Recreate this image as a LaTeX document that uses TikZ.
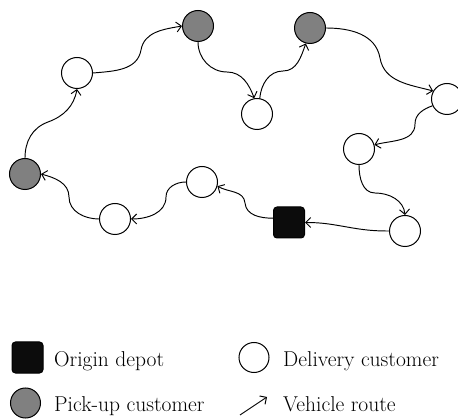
\documentclass[tikz,border=0pt]{standalone}
\usepackage{fontspec}
\usepackage{tikz}
\usetikzlibrary{arrows}
\usepgflibrary{arrows.meta}
\definecolor{pickgray}{RGB}{128,128,128}
\definecolor{depotblack}{RGB}{12,12,12}

\begin{document}
\begin{tikzpicture}[x=1pt,y=1pt,
        deliv/.style={circle,draw,fill=white,line width=1pt,minimum size=31pt,inner sep=0pt},
        pick/.style={deliv,fill=pickgray},
        depot/.style={rectangle,rounded corners=3.5pt,draw,fill=depotblack,line width=1pt,minimum size=31pt,inner sep=0pt},
        route/.style={line width=0.95pt,-{Straight Barb[length=5pt,width=10pt]}},
        legtext/.style={anchor=base west,inner sep=0pt,font=\fontsize{21.5}{25}\selectfont}]
        \useasboundingbox (0,0) rectangle (458,418);
        %customers and depot
            \node [depot] (dep) at (289,195.5) {};
            \node [pick] (p1) at (198,392) {};
            \node [pick] (p2) at (310,390) {};
            \node [pick] (p3) at (25,244) {};
            \node [deliv] (d1) at (77,345) {};
            \node [deliv] (d2) at (257,304) {};
            \node [deliv] (d3) at (447,319) {};
            \node [deliv] (d4) at (359,269) {};
            \node [deliv] (d5) at (405,187) {};
            \node [deliv] (d6) at (202,236) {};
            \node [deliv] (d7) at (115,199) {};
        %route
            \draw [route] (d5.west) to[out=180,in=-10] (347,191) to[out=170,in=0] (dep.east);
            \draw [route] (dep.165) to[out=180,in=-85] (245,215) to[out=95,in=-30] (d6.-15);
            \draw [route] (d6.west) to[out=180,in=90] (166,221) to[out=-90,in=0] (d7.east);
            \draw [route] (d7.west) to[out=180,in=-90] (69,221) to[out=90,in=-15] (p3.east);
            \draw [route] (p3.north) to[out=90,in=200] (48,296) to[out=20,in=-100] (d1.south);
            \draw [route] (d1.east) to[out=5,in=-100] (141,368) to[out=80,in=190] (p1.west);
            \draw [route] (p1.south) to[out=-90,in=180] (227,346) to[out=0,in=110] (d2.100);
            \draw [route] (d2.80) to[out=85,in=180] (283,347) to[out=0,in=-110] (p2.255);
            \draw [route] (p2.east) to[out=0,in=100] (380,360) to[out=-80,in=165] (d3.150);
            \draw [route] (d3.205) to[out=200,in=90] (415,294) to[out=-90,in=15] (d4.15);
            \draw [route] (d4.south) to[out=-90,in=180] (375,225) to[out=0,in=95] (d5.north);
        %legend
            \node [depot] (ldep) at (27.5,60.5) {};
            \node [legtext] (tdep) at (54,52) {Origin depot};
            \node [deliv,minimum size=30pt] (ldel) at (254,60.5) {};
            \node [legtext] (tdel) at (283,52) {Delivery customer};
            \node [pick,minimum size=30pt] (lpick) at (25.5,15) {};
            \node [legtext] (tpick) at (54,7) {Pick-up customer};
            \coordinate (ra) at (240,3);
            \coordinate (rb) at (267,21);
            \draw [route] (ra) -- (rb);
            \node [legtext] (troute) at (283,7) {Vehicle route};
    \end{tikzpicture}
\end{document}
